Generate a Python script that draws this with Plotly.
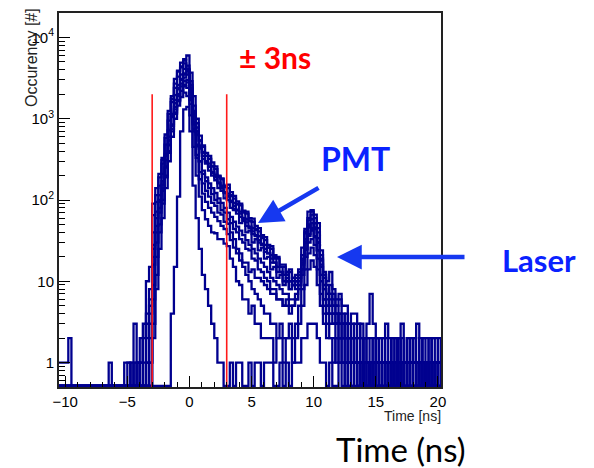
import plotly.graph_objects as go

# ---------------- data (counts per 0.25 ns bin, from -10.5 ns to 20.5 ns) ----------------
bin_width = 0.25
x_start = -10.5
n_bins = 124

run_a = [
    1, 1, 1, 2, 0, 0, 0, 0,
    0, 0, 0, 0, 0, 0, 0, 0,
    1, 0, 0, 0, 0, 1, 1, 0,
    3, 1, 1, 2, 10, 15, 90, 140,
    210, 330, 640, 1250, 1900, 3100, 3900, 4900,
    5400, 6000, 3700, 1900, 1000, 620, 470, 380,
    350, 290, 260, 200, 185, 150, 155, 125,
    112, 96, 90, 74, 72, 60, 59, 48,
    45, 37, 35, 28, 27, 21, 20, 16,
    16, 13, 14, 11, 12, 13, 26, 44,
    72, 75, 66, 52, 24, 13, 10, 13,
    8, 6, 7, 5, 5, 3, 4, 4,
    3, 2, 2, 3, 7, 3, 2, 1,
    2, 3, 1, 2, 1, 2, 3, 1,
    2, 1, 2, 3, 1, 2, 2, 1,
    2, 2, 1, 2,
]
run_b = [
    0, 0, 0, 0, 0, 0, 0, 0,
    0, 0, 0, 0, 0, 0, 0, 0,
    0, 0, 0, 0, 0, 0, 0, 1,
    0, 0, 1, 0, 4, 8, 65, 115,
    190, 310, 580, 1150, 1750, 2700, 3800, 4400,
    5200, 4100, 2600, 1250, 780, 540, 390, 350,
    280, 260, 205, 190, 150, 145, 120, 112,
    92, 88, 72, 70, 58, 55, 45, 43,
    36, 34, 28, 26, 21, 20, 15, 15,
    12, 13, 10, 11, 10, 14, 21, 41,
    60, 66, 52, 40, 19, 12, 7, 9,
    7, 5, 6, 3, 4, 3, 2, 3,
    2, 3, 1, 2, 2, 1, 2, 2,
    1, 2, 2, 1, 1, 2, 1, 1,
    1, 2, 1, 1, 2, 1, 1, 2,
    1, 0, 2, 1,
]
run_c = [
    0, 0, 0, 0, 0, 0, 0, 0,
    0, 0, 0, 0, 0, 0, 0, 0,
    0, 0, 0, 0, 0, 0, 0, 0,
    0, 0, 0, 0, 1, 4, 28, 72,
    115, 210, 370, 720, 1150, 1950, 2600, 3500,
    4100, 4500, 2900, 1450, 880, 540, 450, 350,
    320, 260, 240, 195, 180, 145, 140, 115,
    104, 90, 86, 72, 68, 56, 54, 44,
    41, 35, 32, 26, 25, 19, 19, 15,
    15, 12, 13, 10, 11, 12, 19, 39,
    56, 72, 60, 45, 21, 11, 9, 7,
    6, 5, 4, 4, 3, 2, 3, 2,
    2, 1, 2, 2, 1, 2, 1, 2,
    2, 1, 1, 2, 2, 1, 2, 1,
    2, 1, 2, 1, 1, 2, 1, 1,
    2, 1, 1, 1,
]
run_d = [
    0, 0, 0, 0, 0, 0, 0, 0,
    0, 0, 0, 0, 0, 0, 0, 0,
    0, 0, 0, 0, 0, 0, 0, 0,
    0, 1, 0, 0, 0, 2, 16, 48,
    95, 155, 310, 540, 1050, 1550, 2400, 3000,
    3600, 4000, 2300, 1150, 640, 450, 320, 290,
    230, 215, 175, 160, 130, 122, 100, 95,
    78, 74, 62, 58, 48, 45, 38, 36,
    30, 28, 23, 22, 17, 17, 13, 13,
    10, 11, 8, 9, 8, 12, 17, 33,
    48, 58, 46, 34, 16, 9, 5, 7,
    5, 4, 3, 3, 2, 2, 2, 1,
    1, 2, 1, 1, 1, 0, 1, 1,
    0, 1, 1, 0, 1, 1, 0, 1,
    1, 0, 1, 1, 0, 1, 1, 0,
    1, 1, 0, 1,
]
run_e = [
    0, 0, 0, 0, 0, 0, 0, 0,
    0, 0, 0, 0, 0, 0, 0, 0,
    0, 0, 0, 0, 0, 0, 0, 0,
    0, 0, 0, 0, 0, 1, 9, 30,
    70, 130, 250, 480, 850, 1400, 2000, 2700,
    3200, 3500, 2400, 1200, 700, 470, 350, 300,
    255, 220, 195, 165, 148, 125, 112, 98,
    85, 76, 68, 60, 53, 47, 41, 37,
    32, 29, 25, 22, 19, 17, 15, 13,
    12, 10, 10, 9, 9, 10, 16, 30,
    46, 52, 44, 30, 15, 8, 6, 5,
    4, 4, 3, 2, 3, 1, 2, 1,
    1, 1, 0, 1, 1, 1, 0, 1,
    1, 0, 1, 1, 0, 2, 1, 0,
    1, 1, 0, 1, 1, 0, 1, 1,
    0, 1, 1, 0,
]
run_f = [
    0, 0, 0, 0, 0, 0, 0, 0,
    0, 0, 0, 0, 0, 0, 0, 0,
    0, 0, 0, 0, 0, 0, 0, 0,
    0, 0, 0, 0, 1, 3, 20, 40,
    80, 140, 260, 470, 820, 1300, 1900, 2500,
    2900, 3000, 1800, 850, 460, 300, 230, 190,
    160, 140, 122, 105, 92, 80, 70, 62,
    54, 47, 42, 37, 32, 28, 25, 22,
    19, 17, 15, 13, 11, 10, 9, 8,
    7, 7, 6, 6, 7, 9, 14, 24,
    36, 42, 35, 24, 12, 6, 4, 4,
    3, 3, 2, 2, 1, 2, 1, 1,
    0, 1, 1, 0, 1, 0, 1, 1,
    1, 0, 0, 1, 1, 0, 1, 0,
    0, 1, 1, 0, 1, 0, 0, 1,
    1, 0, 1, 0,
]
run_g = [
    0, 0, 0, 0, 0, 0, 0, 0,
    0, 0, 0, 0, 0, 0, 0, 0,
    0, 0, 0, 0, 0, 0, 0, 0,
    0, 0, 0, 0, 0, 1, 6, 20,
    50, 100, 200, 400, 750, 1200, 1700, 2200,
    2500, 2400, 1500, 700, 360, 220, 160, 130,
    110, 92, 85, 70, 66, 54, 51, 40,
    33, 25, 22, 17, 17, 13, 14, 11,
    11, 10, 9, 8, 7, 7, 6, 6,
    5, 5, 4, 5, 6, 9, 14, 25,
    38, 44, 36, 24, 12, 6, 5, 4,
    4, 3, 2, 2, 2, 1, 2, 1,
    1, 0, 1, 1, 0, 1, 1, 0,
    1, 0, 1, 1, 0, 1, 0, 1,
    0, 1, 1, 0, 1, 0, 1, 1,
    0, 1, 1, 0,
]
run_h = [
    0, 0, 0, 0, 0, 0, 0, 0,
    0, 0, 0, 0, 0, 0, 0, 0,
    0, 0, 0, 0, 0, 0, 0, 0,
    0, 0, 0, 0, 0, 0, 2, 8,
    25, 60, 140, 300, 600, 1000, 1450, 1850,
    2100, 1900, 1100, 450, 200, 110, 75, 58,
    48, 40, 39, 33, 33, 29, 27, 19,
    15, 10, 9, 6, 6, 4, 5, 3,
    3, 2, 2, 2, 2, 1, 2, 2,
    1, 2, 2, 1, 2, 3, 5, 9,
    14, 18, 15, 9, 5, 3, 2, 2,
    1, 2, 1, 1, 0, 1, 1, 0,
    1, 1, 0, 0, 1, 1, 0, 1,
    0, 1, 0, 1, 1, 0, 0, 1,
    1, 0, 0, 1, 0, 1, 0, 0,
    1, 0, 1, 1,
]
run_i = [
    0, 0, 0, 0, 0, 0, 0, 0,
    0, 0, 0, 0, 0, 0, 0, 0,
    0, 0, 0, 0, 0, 0, 0, 0,
    0, 0, 0, 0, 0, 0, 0, 0,
    0, 0, 0, 0, 4, 15, 110, 700,
    1300, 1400, 700, 150, 60, 25, 12, 8,
    5, 3, 2, 1, 1, 0, 0, 1,
    0, 1, 1, 0, 0, 1, 0, 1,
    1, 0, 1, 1, 1, 0, 0, 1,
    0, 1, 0, 1, 1, 1, 2, 2,
    3, 3, 3, 2, 1, 1, 0, 1,
    0, 0, 1, 0, 1, 0, 0, 1,
    0, 1, 0, 0, 1, 0, 1, 0,
    1, 0, 0, 1, 0, 0, 1, 0,
    0, 1, 0, 0, 1, 1, 0, 1,
    0, 0, 1, 0,
]
run_j = [
    0, 0, 0, 0, 0, 0, 0, 0,
    0, 0, 0, 0, 0, 0, 0, 0,
    0, 0, 0, 0, 0, 0, 0, 0,
    0, 0, 0, 0, 0, 0, 3, 12,
    40, 90, 190, 380, 700, 1150, 1650, 2200,
    2600, 2800, 1700, 750, 330, 180, 120, 95,
    80, 70, 62, 55, 48, 44, 38, 32,
    26, 22, 18, 15, 12, 10, 8, 7,
    6, 5, 4, 4, 3, 3, 2, 3,
    2, 2, 3, 2, 3, 5, 8, 14,
    22, 26, 21, 14, 7, 4, 3, 2,
    2, 1, 2, 1, 1, 0, 1, 1,
    0, 1, 0, 1, 0, 0, 1, 0,
    1, 0, 1, 0, 0, 1, 0, 0,
    1, 0, 0, 1, 0, 0, 1, 0,
    0, 1, 0, 0,
]
run_k = [
    0, 0, 0, 0, 0, 0, 0, 0,
    0, 0, 0, 0, 0, 0, 0, 0,
    0, 0, 0, 0, 0, 0, 1, 0,
    1, 0, 2, 1, 3, 6, 40, 95,
    150, 280, 480, 950, 1600, 2400, 3300, 4300,
    4800, 3900, 2100, 1100, 700, 430, 380, 280,
    260, 200, 190, 140, 140, 105, 110, 80,
    75, 68, 52, 55, 40, 42, 30, 33,
    24, 26, 19, 20, 14, 15, 11, 12,
    9, 10, 8, 9, 10, 11, 18, 30,
    50, 45, 52, 30, 18, 8, 7, 6,
    5, 3, 4, 2, 3, 2, 1, 2,
    1, 0, 2, 1, 0, 1, 2, 0,
    1, 1, 0, 1, 2, 0, 1, 1,
    0, 2, 1, 0, 1, 1, 0, 1,
    1, 0, 1, 2,
]
run_l = [
    0, 0, 0, 0, 0, 0, 0, 0,
    0, 0, 0, 0, 0, 0, 0, 0,
    0, 0, 0, 0, 0, 0, 0, 0,
    0, 1, 0, 3, 2, 5, 25, 60,
    100, 170, 350, 600, 1100, 1700, 2300, 3100,
    3500, 3800, 2000, 900, 480, 300, 210, 170,
    140, 118, 100, 92, 75, 70, 58, 52,
    44, 40, 33, 30, 25, 24, 19, 18,
    14, 13, 11, 10, 8, 8, 6, 6,
    5, 6, 5, 5, 6, 8, 12, 20,
    30, 33, 28, 19, 10, 5, 4, 3,
    3, 2, 2, 1, 2, 1, 0, 1,
    1, 0, 1, 1, 0, 1, 0, 0,
    0, 1, 1, 0, 1, 0, 0, 1,
    1, 0, 1, 0, 0, 1, 0, 1,
    0, 1, 0, 1,
]
runs = [run_a, run_b, run_c, run_d, run_e, run_f,
        run_g, run_h, run_i, run_j, run_k, run_l]

window_ns = 3           # +/- 3 ns selection window
window_line_top = 2000  # height of the window markers

x_tick_vals = [-10, -5, 0, 5, 10, 15, 20]
y_tick_vals = [1, 10, 100, 1000, 10000]
y_tick_text = ["1", "10", "10<sup>2</sup>", "10<sup>3</sup>", "10<sup>4</sup>"]

# ---------------- layout constants ----------------
W, H = 594, 468
ML, MR, MT, MB = 59, 153, 13, 81
PW, PH = W - ML - MR, H - MT - MB
HIST_COLOR = "#00008f"
ROOT_FONT = "Liberation Sans, Arial, sans-serif"
SLIDE_FONT = "Lato, Open Sans, sans-serif"
ZERO_LEVEL = 0.515  # empty bins drawn at the bottom of the log frame


def paper(px, py):
    return (px - ML) / PW, (H - MB - py) / PH


edges = [x_start + i * bin_width for i in range(n_bins + 1)]

fig = go.Figure()
for run in runs:
    yv = [v if v > 0 else ZERO_LEVEL for v in run]
    yv = yv + [yv[-1]]
    fig.add_trace(go.Scatter(x=edges, y=yv, mode="lines",
                             line=dict(shape="hv", color=HIST_COLOR, width=2.3),
                             hoverinfo="skip"))

for xw in (-window_ns, window_ns):
    fig.add_trace(go.Scatter(x=[xw, xw], y=[0.5, window_line_top], mode="lines",
                             line=dict(color="#ff1a1a", width=1.6), hoverinfo="skip"))

minor_y = []
for dec in (0.1, 1, 10, 100, 1000, 10000):
    for m in range(2, 10):
        v = m * dec
        if 0.5 <= v <= 20000:
            minor_y.append(v)

fig.update_layout(
    width=W, height=H,
    margin=dict(l=ML, r=MR, t=MT, b=MB, pad=0),
    paper_bgcolor="white", plot_bgcolor="white",
    showlegend=False,
    font=dict(family=ROOT_FONT, size=15, color="black"),
    xaxis=dict(range=[-10.5, 20.25], tickmode="array", tickvals=x_tick_vals,
               ticks="inside", ticklen=11, tickwidth=1.3, tickcolor="black",
               showline=True, linecolor="#222", linewidth=2, mirror=True,
               showgrid=False, zeroline=False,
               tickfont=dict(family=ROOT_FONT, size=15),
               minor=dict(dtick=1, ticks="inside", ticklen=5, tickwidth=1.2,
                          tickcolor="black", showgrid=False)),
    yaxis=dict(type="log", range=[-0.30103, 4.30103], tickmode="array",
               tickvals=y_tick_vals, ticktext=y_tick_text,
               ticks="inside", ticklen=11, tickwidth=1.3, tickcolor="black",
               showline=True, linecolor="#222", linewidth=2, mirror=True,
               showgrid=False, zeroline=False,
               tickfont=dict(family=ROOT_FONT, size=15),
               minor=dict(tickmode="array", tickvals=minor_y, ticks="inside",
                          ticklen=6, tickwidth=1.2, tickcolor="black", showgrid=False)),
)

ann = []
# axis titles (ROOT style)
x0, y0 = paper(443, 416)
ann.append(dict(text="Time [ns]", x=x0, y=y0, xref="paper", yref="paper",
                xanchor="right", yanchor="middle", showarrow=False,
                font=dict(family=ROOT_FONT, size=14, color="#222")))
x0, y0 = paper(31, 58)
ann.append(dict(text="Occurency [#]", x=x0, y=y0, xref="paper", yref="paper",
                xanchor="center", yanchor="middle", textangle=-90, showarrow=False,
                font=dict(family=ROOT_FONT, size=16, color="#222")))
# slide labels
x0, y0 = paper(275, 57)
ann.append(dict(text="<b>± 3ns</b>", x=x0, y=y0, xref="paper", yref="paper",
                xanchor="center", yanchor="middle", showarrow=False,
                font=dict(family=SLIDE_FONT, size=30, color="#ff0000")))
x0, y0 = paper(355, 158)
ann.append(dict(text="<b>PMT</b>", x=x0, y=y0, xref="paper", yref="paper",
                xanchor="center", yanchor="middle", showarrow=False,
                font=dict(family=SLIDE_FONT, size=32, color="#0a22ff")))
x0, y0 = paper(539, 260)
ann.append(dict(text="<b>Laser</b>", x=x0, y=y0, xref="paper", yref="paper",
                xanchor="center", yanchor="middle", showarrow=False,
                font=dict(family=SLIDE_FONT, size=31, color="#0a22ff")))
x0, y0 = paper(401, 449)
ann.append(dict(text="Time (ns)", x=x0, y=y0, xref="paper", yref="paper",
                xanchor="center", yanchor="middle", showarrow=False,
                font=dict(family=SLIDE_FONT, size=33, color="black")))
# arrows
for (tx, ty), (hx, hy) in [((320, 187), (258, 223)), ((466, 257), (337, 257))]:
    x0, y0 = paper(hx, hy)
    ann.append(dict(text="", x=x0, y=y0, xref="paper", yref="paper",
                    ax=tx - hx, ay=ty - hy, axref="pixel", ayref="pixel",
                    showarrow=True, arrowhead=2, arrowsize=1.1, arrowwidth=4.5,
                    arrowcolor="#1638f0", standoff=0, startstandoff=0))
fig.update_layout(annotations=ann)

fig.write_html("out.html")
